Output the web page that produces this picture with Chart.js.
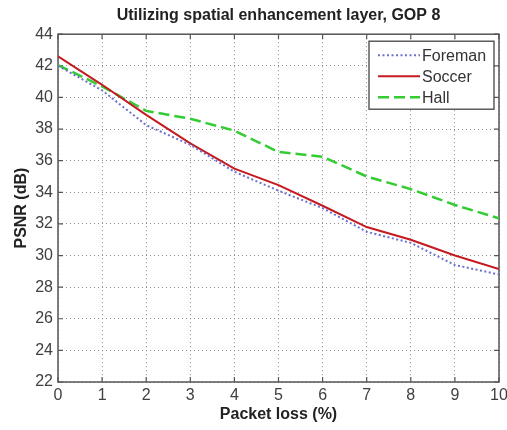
<!DOCTYPE html>
<html>
<head>
<meta charset="utf-8">
<script src="https://cdn.jsdelivr.net/npm/chart.js@4"></script>
<style>
html,body{margin:0;padding:0;background:#fff;}
#wrap{width:507px;height:430px;}
</style>
</head>
<body>
<div id="wrap"><canvas id="c" width="507" height="430"></canvas></div>
<script>
const titleText = 'Utilizing spatial enhancement layer, GOP 8';
const xLabel = 'Packet loss (%)';
const yLabel = 'PSNR (dB)';
const packetLoss = [0, 1, 2, 3, 4, 5, 6, 7, 8, 9, 10];
const seriesNames = ['Foreman', 'Soccer', 'Hall'];
const foreman = [42.0, 40.45, 38.25, 37.0, 35.3, 34.1, 33.0, 31.5, 30.8, 29.4, 28.8];
const soccer  = [42.6, 40.8, 38.9, 37.1, 35.5, 34.45, 33.15, 31.8, 31.0, 30.0, 29.15];
const hall    = [42.05, 40.7, 39.15, 38.65, 37.9, 36.55, 36.25, 35.0, 34.2, 33.2, 32.35];
const xTicks = [0, 1, 2, 3, 4, 5, 6, 7, 8, 9, 10];
const yTicks = [22, 24, 26, 28, 30, 32, 34, 36, 38, 40, 42, 44];

const FONT = "'Liberation Sans', Arial, Helvetica, sans-serif";
const pts = arr => packetLoss.map((x, i) => ({x: x, y: arr[i]}));

const framePlugin = {
  id: 'frame',
  beforeDatasetsDraw(chart) {
    const {ctx, chartArea: a, scales} = chart;
    ctx.save();
    ctx.strokeStyle = '#555';
    ctx.lineWidth = 1.5;
    ctx.setLineDash([]);
    ctx.strokeRect(a.left, a.top, a.right - a.left, a.bottom - a.top);
    ctx.lineWidth = 1.2;
    ctx.beginPath();
    scales.x.ticks.forEach(t => {
      const p = scales.x.getPixelForValue(t.value);
      ctx.moveTo(p, a.bottom); ctx.lineTo(p, a.bottom - 5);
      ctx.moveTo(p, a.top); ctx.lineTo(p, a.top + 5);
    });
    scales.y.ticks.forEach(t => {
      const p = scales.y.getPixelForValue(t.value);
      ctx.moveTo(a.left, p); ctx.lineTo(a.left + 5, p);
      ctx.moveTo(a.right, p); ctx.lineTo(a.right - 5, p);
    });
    ctx.stroke();
    ctx.restore();
  }
};

const legendPlugin = {
  id: 'boxLegend',
  afterDatasetsDraw(chart) {
    const {ctx, chartArea: a} = chart;
    const bw = 125, bh = 68;
    const bx = a.right - 130, by = a.top + 7;
    ctx.save();
    ctx.fillStyle = '#fff';
    ctx.fillRect(bx, by, bw, bh);
    ctx.strokeStyle = '#444';
    ctx.lineWidth = 1.3;
    ctx.setLineDash([]);
    ctx.strokeRect(bx, by, bw, bh);
    ctx.font = '16px ' + FONT;
    ctx.textBaseline = 'middle';
    ctx.textAlign = 'left';
    chart.data.datasets.forEach((ds, i) => {
      const y = by + 14 + i * 21;
      ctx.save();
      ctx.strokeStyle = ds.borderColor;
      ctx.lineWidth = ds.borderWidth;
      ctx.setLineDash(ds.borderDash || []);
      ctx.beginPath();
      ctx.moveTo(bx + 9, y); ctx.lineTo(bx + 51, y);
      ctx.stroke();
      ctx.restore();
      ctx.fillStyle = '#333';
      ctx.fillText(ds.label, bx + 53, y + 1);
    });
    ctx.restore();
  }
};

new Chart(document.getElementById('c'), {
  type: 'line',
  data: {
    datasets: [
      {label: seriesNames[0], data: pts(foreman), borderColor: '#6b70cc', borderWidth: 2, borderDash: [2, 2.5], pointRadius: 0, fill: false, tension: 0},
      {label: seriesNames[1], data: pts(soccer), borderColor: '#c41a20', borderWidth: 2, pointRadius: 0, fill: false, tension: 0},
      {label: seriesNames[2], data: pts(hall), borderColor: '#33cc33', borderWidth: 2.5, borderDash: [11, 5], pointRadius: 0, fill: false, tension: 0}
    ]
  },
  options: {
    responsive: false,
    animation: false,
    devicePixelRatio: 1,
    layout: {padding: {top: 0, right: 0, bottom: 0, left: 0}},
    plugins: {
      legend: {display: false},
      tooltip: {enabled: false},
      title: {
        display: true, text: titleText, fullSize: false,
        font: {family: FONT, size: 16, weight: 'bold'}, color: '#222',
        padding: {top: 6, bottom: 9}
      }
    },
    scales: {
      x: {
        type: 'linear', min: 0, max: 10,
        afterBuildTicks: s => { s.ticks = xTicks.map(v => ({value: v})); },
        afterFit: s => { s.height = 48; s.paddingRight = 8; },
        ticks: {font: {family: FONT, size: 16}, color: '#404040', padding: 3.5, maxRotation: 0, autoSkip: false},
        grid: {color: '#8a8a8a', lineWidth: 1, drawTicks: false},
        border: {display: false, dash: [1, 3]},
        title: {display: true, text: xLabel, font: {family: FONT, size: 16, weight: 'bold'}, color: '#222', padding: {top: 0, bottom: 5.4}}
      },
      y: {
        min: 22, max: 44,
        afterBuildTicks: s => { s.ticks = yTicks.map(v => ({value: v})); },
        afterFit: s => { s.width = 58; },
        ticks: {font: {family: FONT, size: 16}, color: '#404040', padding: 5, autoSkip: false},
        grid: {color: '#8a8a8a', lineWidth: 1, drawTicks: false},
        border: {display: false, dash: [1, 3]},
        title: {display: true, text: yLabel, font: {family: FONT, size: 16, weight: 'bold'}, color: '#222', padding: {top: 11.5, bottom: 0}}
      }
    }
  },
  plugins: [framePlugin, legendPlugin]
});
</script>
</body>
</html>
